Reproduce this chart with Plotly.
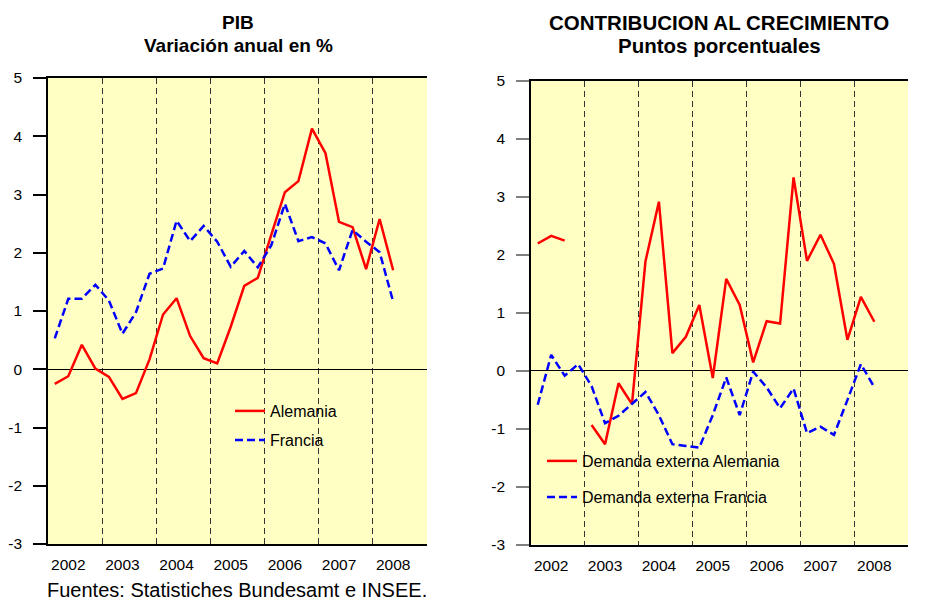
import plotly.graph_objects as go

quarters = list(range(26))  # 2002Q1 .. 2008Q2
year_labels = ["2002", "2003", "2004", "2005", "2006", "2007", "2008"]
year_positions = [1, 5, 9, 13, 17, 21, 25]

pib_alemania = [-0.25, -0.12, 0.42, 0.01, -0.13, -0.51, -0.41, 0.17, 0.94, 1.22,
                0.57, 0.19, 0.10, 0.73, 1.43, 1.57, 2.31, 3.04, 3.23, 4.13,
                3.71, 2.53, 2.44, 1.72, 2.58, 1.70]
pib_francia = [0.53, 1.21, 1.21, 1.45, 1.18, 0.61, 0.98, 1.64, 1.73, 2.55,
               2.20, 2.46, 2.19, 1.76, 2.03, 1.75, 2.13, 2.84, 2.20, 2.27,
               2.16, 1.70, 2.39, 2.19, 2.01, 1.16]

dem_ext_alemania = [2.19, 2.32, 2.24, None, -0.94, -1.27, -0.22, -0.58, 1.88, 2.91,
                    0.30, 0.58, 1.13, -0.13, 1.58, 1.13, 0.14, 0.85, 0.81, 3.33,
                    1.89, 2.34, 1.84, 0.53, 1.27, 0.84]
dem_ext_francia = [-0.59, 0.27, -0.09, 0.11, -0.27, -0.91, -0.78, -0.57, -0.37, -0.77,
                   -1.27, -1.30, -1.33, -0.77, -0.12, -0.77, -0.02, -0.29, -0.65, -0.31,
                   -1.08, -0.97, -1.11, -0.51, 0.11, -0.29]

y_ticks = [-3, -2, -1, 0, 1, 2, 3, 4, 5]
y_tick_labels = ["-3", "-2", "-1", "0", "1", "2", "3", "4", "5"]

FONT = "Liberation Sans, Arial, sans-serif"
RED = "#FF0000"
BLUE = "#0000FF"

# The page body adds an 8px margin; the figure is sized so it fits the 948x600 window.
OFF = 8
W, H = 948 - OFF, 600 - OFF


def fx(px):
    return (px - OFF) / W


def fy(py):
    return 1 - (py - OFF) / H


fig = go.Figure()

fig.add_trace(go.Scatter(x=quarters, y=pib_alemania, mode="lines", name="Alemania",
                         line=dict(color=RED, width=2.5), xaxis="x", yaxis="y", legend="legend"))
fig.add_trace(go.Scatter(x=quarters, y=pib_francia, mode="lines", name="Francia",
                         line=dict(color=BLUE, width=2.5, dash="8px,4px"), xaxis="x", yaxis="y", legend="legend2"))
fig.add_trace(go.Scatter(x=quarters, y=dem_ext_alemania, mode="lines", name="Demanda externa Alemania",
                         line=dict(color=RED, width=2.5), xaxis="x2", yaxis="y2", legend="legend3",
                         connectgaps=False))
fig.add_trace(go.Scatter(x=quarters, y=dem_ext_francia, mode="lines", name="Demanda externa Francia",
                         line=dict(color=BLUE, width=2.5, dash="8px,4px"), xaxis="x2", yaxis="y2", legend="legend4"))


def xaxis_cfg(domain, anchor):
    return dict(
        domain=domain, anchor=anchor, range=[-0.5, 27.5],
        tickmode="array", tickvals=year_positions, ticktext=year_labels,
        ticks="", showgrid=False, zeroline=False,
        showline=True, linecolor="black", linewidth=1.5, mirror=True,
        tickfont=dict(family=FONT, size=15.5, color="black"),
        ticklabelstandoff=6, automargin=False,
        minor=dict(tick0=3.5, dtick=4, showgrid=True, griddash="6px,4px",
                   gridcolor="#333333", gridwidth=1.2, ticks=""),
    )


def yaxis_cfg(domain, anchor, side, tickcolor, overlaying=None):
    d = dict(
        domain=domain, anchor=anchor, range=[-3, 5], side=side,
        tickmode="array", tickvals=y_ticks, ticktext=y_tick_labels,
        ticks="outside", ticklen=13, tickwidth=1.5, tickcolor=tickcolor,
        showgrid=False, zeroline=True, zerolinecolor="black", zerolinewidth=1,
        showline=True, linecolor="black", linewidth=1.5,
        tickfont=dict(family=FONT, size=15.5, color="black"),
        ticklabelstandoff=8, automargin=False,
    )
    if overlaying:
        d["overlaying"] = overlaying
    return d


ldom = [fx(48), fx(427)]
rdom = [fx(531), fx(908)]
lyd = [fy(544), fy(78)]
ryd = [fy(544.5), fy(80.5)]

legend_common = dict(bgcolor="rgba(0,0,0,0)", borderwidth=0, xanchor="left", yanchor="middle",
                     font=dict(family=FONT, size=16, color="black"), itemwidth=30)

fig.update_layout(
    width=W, height=H,
    margin=dict(l=0, r=0, t=0, b=0, autoexpand=False),
    paper_bgcolor="white",
    plot_bgcolor="#FFFFC4",
    xaxis=xaxis_cfg(ldom, "y"),
    yaxis=yaxis_cfg(lyd, "x", "left", "black"),
    yaxis3=yaxis_cfg(lyd, "x", "right", "black", overlaying="y"),
    xaxis2=xaxis_cfg(rdom, "y2"),
    yaxis2=yaxis_cfg(ryd, "x2", "left", "#808080"),
    yaxis4=yaxis_cfg(ryd, "x2", "right", "#808080", overlaying="y2"),
    legend=dict(x=fx(230), y=fy(411), **legend_common),
    legend2=dict(x=fx(230), y=fy(440), **legend_common),
    legend3=dict(x=fx(542), y=fy(461), **legend_common),
    legend4=dict(x=fx(542), y=fy(497), **legend_common),
    showlegend=True,
)

annotations = [
    dict(text="<b>PIB</b>", x=fx(238), y=fy(22), size=19),
    dict(text="<b>Variación anual en %</b>", x=fx(238), y=fy(46), size=19),
    dict(text="<b>CONTRIBUCION AL CRECIMIENTO</b>", x=fx(719), y=fy(22), size=20.5),
    dict(text="<b>Puntos porcentuales</b>", x=fx(719), y=fy(46), size=20.5),
]
for a in annotations:
    fig.add_annotation(xref="paper", yref="paper", xanchor="center", yanchor="middle",
                       showarrow=False, text=a["text"], x=a["x"], y=a["y"],
                       font=dict(family=FONT, size=a["size"], color="black"))

fig.add_annotation(text="Fuentes: Statistiches Bundesamt e INSEE.", xref="paper", yref="paper",
                   x=fx(45), y=fy(590), xanchor="left", yanchor="middle", showarrow=False,
                   font=dict(family=FONT, size=20, color="black"))

fig.write_html("out.html")
